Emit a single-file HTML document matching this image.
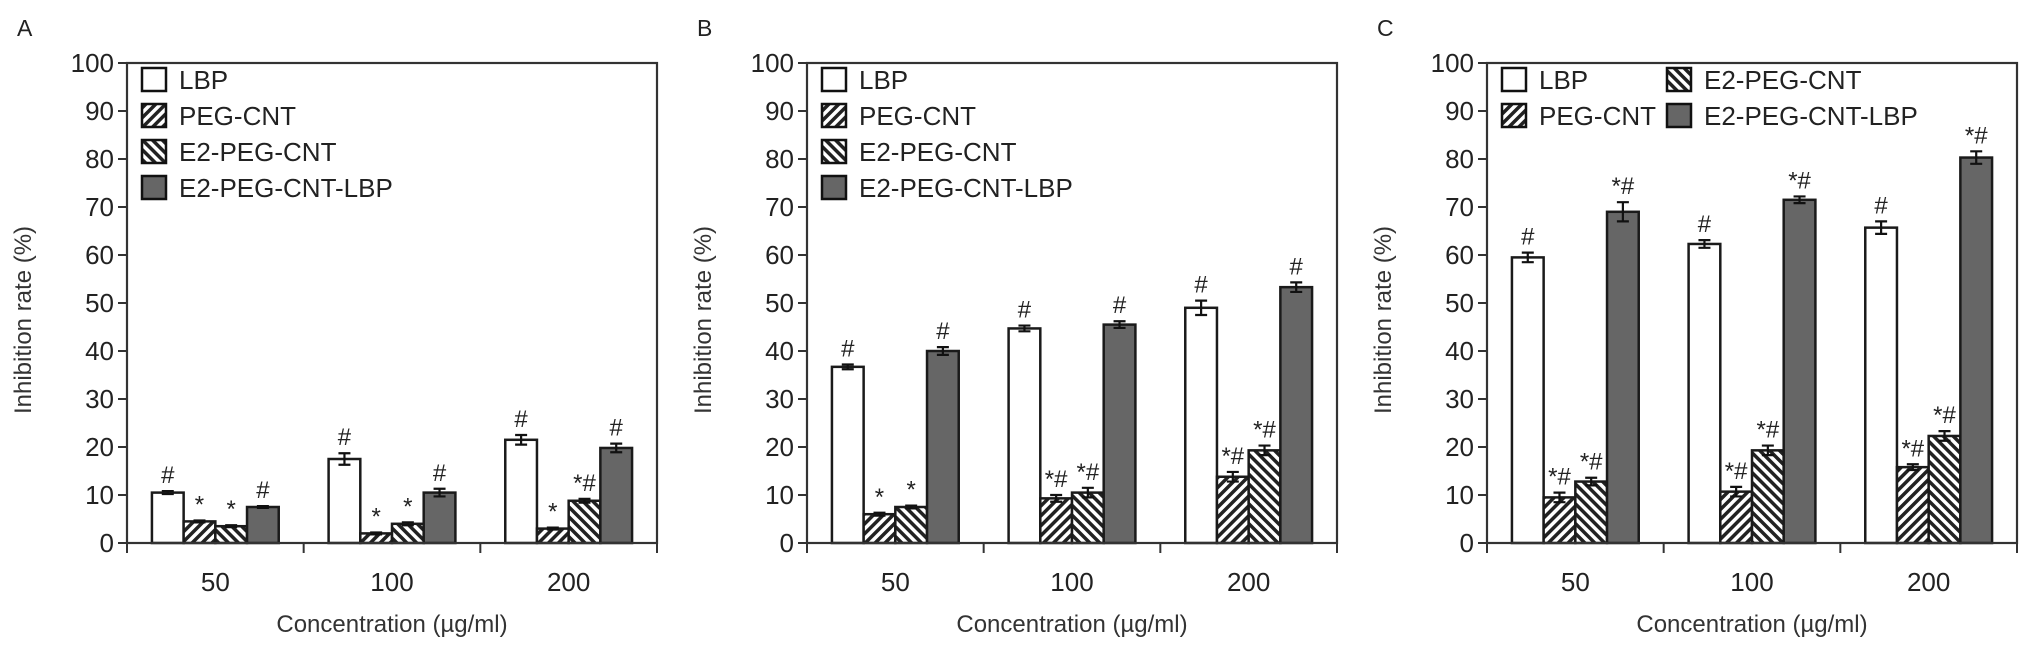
<!DOCTYPE html>
<html><head><meta charset="utf-8"><style>
body{margin:0;background:#fff;}
svg{display:block;font-family:"Liberation Sans",Arial,sans-serif;}
</style></head><body>
<svg id="fig" width="2031" height="645" viewBox="0 0 2031 645" xmlns="http://www.w3.org/2000/svg">
<defs>
<pattern id="hatchF" patternUnits="userSpaceOnUse" width="7" height="7" patternTransform="rotate(45)">
<rect width="7" height="7" fill="#fff"/><rect width="3.5" height="7" fill="#222"/></pattern>
<pattern id="hatchB" patternUnits="userSpaceOnUse" width="7" height="7" patternTransform="rotate(-45)">
<rect width="7" height="7" fill="#fff"/><rect width="3.5" height="7" fill="#222"/></pattern>
</defs>
</svg>
<script>
const categories = ["50","100","200"];
const seriesNames = ["LBP","PEG-CNT","E2-PEG-CNT","E2-PEG-CNT-LBP"];
const yTicks = [0,10,20,30,40,50,60,70,80,90,100];
const panelLabels = ["A","B","C"];
// Panel A
const aLBP = [10.5,17.5,21.5], aPEG = [4.5,2,3], aE2 = [3.5,4,8.8], aComb = [7.5,10.5,19.8];
const aErrLBP = [0.3,1.2,1], aErrPEG = [0.2,0.2,0.2], aErrE2 = [0.2,0.3,0.4], aErrComb = [0.2,0.8,0.9];
const aMarks = [["#","*","*","#"],["#","*","*","#"],["#","*","*#","#"]];
// Panel B
const bLBP = [36.7,44.7,49], bPEG = [6,9.3,13.8], bE2 = [7.5,10.5,19.3], bComb = [40,45.5,53.3];
const bErrLBP = [0.5,0.6,1.5], bErrPEG = [0.3,0.7,1], bErrE2 = [0.3,1,1], bErrComb = [0.8,0.7,1];
const bMarks = [["#","*","*","#"],["#","*#","*#","#"],["#","*#","*#","#"]];
// Panel C
const cLBP = [59.5,62.3,65.7], cPEG = [9.5,10.7,15.8], cE2 = [12.8,19.3,22.3], cComb = [69,71.5,80.3];
const cErrLBP = [1,0.8,1.3], cErrPEG = [1,1,0.6], cErrE2 = [0.8,1,1], cErrComb = [2,0.7,1.3];
const cMarks = [["#","*#","*#","*#"],["#","*#","*#","*#"],["#","*#","*#","*#"]];

const panels = [
  {vals:[aLBP,aPEG,aE2,aComb], errs:[aErrLBP,aErrPEG,aErrE2,aErrComb], marks:aMarks, legend2col:false},
  {vals:[bLBP,bPEG,bE2,bComb], errs:[bErrLBP,bErrPEG,bErrE2,bErrComb], marks:bMarks, legend2col:false},
  {vals:[cLBP,cPEG,cE2,cComb], errs:[cErrLBP,cErrPEG,cErrE2,cErrComb], marks:cMarks, legend2col:true}
];
const fills = ["#fff","url(#hatchF)","url(#hatchB)","#666"];
const seriesKeys = ["lbp","peg-cnt","e2-peg-cnt","e2-peg-cnt-lbp"];
const NS = "http://www.w3.org/2000/svg";
const svg = document.getElementById("fig");
function mk(tag, attrs, parent, text){
  const e = document.createElementNS(NS, tag);
  for (const k in attrs) e.setAttribute(k, attrs[k]);
  if (text !== undefined) e.textContent = text;
  (parent||svg).appendChild(e);
  return e;
}
const Y0 = 543, Y100 = 63, W = 530, PANEL_DX = 680, X0 = 127;
function yScale(v){ return Y0 - (v/100)*(Y0-Y100); }
const grpW = W/categories.length, barW = 31.7;

panels.forEach((p, pi) => {
  const left = X0 + pi*PANEL_DX;
  const g = mk("g", {});
  
  
  const lab = mk("text", {x:left-110, y:36, "font-size":23, fill:"#222"}, g, panelLabels[pi]);
  
  
  const yt = mk("text", {x:0, y:0, "font-size":24, fill:"#333", "text-anchor":"middle",
    transform:`translate(${left-96},320) rotate(-90)`}, g, "Inhibition rate (%)");
  
  
  yTicks.forEach(t => {
    const y = yScale(t);
    const tl = mk("line", {x1:left-9, x2:left, y1:y, y2:y, stroke:"#333", "stroke-width":2}, g);
    
    
    const tx = mk("text", {x:left-13, y:y+9, "font-size":26, "text-anchor":"end", fill:"#222"}, g, String(t));
    
    
  });
  categories.forEach((c, ci) => {
    const gx = left + ci*grpW;
    const start = gx + grpW/2 - 2*barW;
    p.vals.forEach((series, si) => {
      const v = series[ci], e = p.errs[si][ci];
      const x = start + si*barW, y = yScale(v);
      const r = mk("rect", {x:x, y:y, width:barW, height:Y0-y, fill:fills[si], stroke:"#1a1a1a", "stroke-width":2.5}, g);
      
      
      const cx = x + barW/2, yt2 = yScale(v+e), yb = yScale(v-e);
      const eb = mk("path", {d:`M${cx},${yt2}V${yb}M${cx-6},${yt2}H${cx+6}M${cx-6},${yb}H${cx+6}`, stroke:"#111", "stroke-width":2.2, fill:"none"}, g);
      
      
      const m = p.marks[ci][si];
      const at = mk("text", {x:cx, y:yt2-8, "font-size":24, "text-anchor":"middle", fill:"#222"}, g, m);
      
      
    });
    const xl = mk("text", {x:gx+grpW/2, y:591, "font-size":26, "text-anchor":"middle", fill:"#222"}, g, c);
    
    
  });
  const fr = mk("rect", {x:left, y:Y100, width:W, height:Y0-Y100, fill:"none", stroke:"#333", "stroke-width":2.2}, g);
  
  
  for (let k=0; k<=categories.length; k++){
    const x = left + k*grpW;
    const ct = mk("line", {x1:x, x2:x, y1:Y0, y2:Y0+10, stroke:"#333", "stroke-width":2}, g);
    
    
  }
  const xt = mk("text", {x:left+W/2, y:632, "font-size":24, "text-anchor":"middle", fill:"#333"}, g, "Concentration (\u00b5g/ml)");
  
  
  seriesNames.forEach((n, si) => {
    let lx = left + 15, row = si;
    if (p.legend2col){ lx = left + 15 + (si>=2 ? 165 : 0); row = si % 2; }
    const ly = 68 + row*36;
    const lg = mk("g", {}, g);
    
    
    mk("rect", {x:lx, y:ly, width:24, height:23, fill:fills[si], stroke:"#111", "stroke-width":2.5}, lg);
    mk("text", {x:lx+37, y:ly+21, "font-size":26, fill:"#222"}, lg, n);
  });
});
</script>
</body></html>
